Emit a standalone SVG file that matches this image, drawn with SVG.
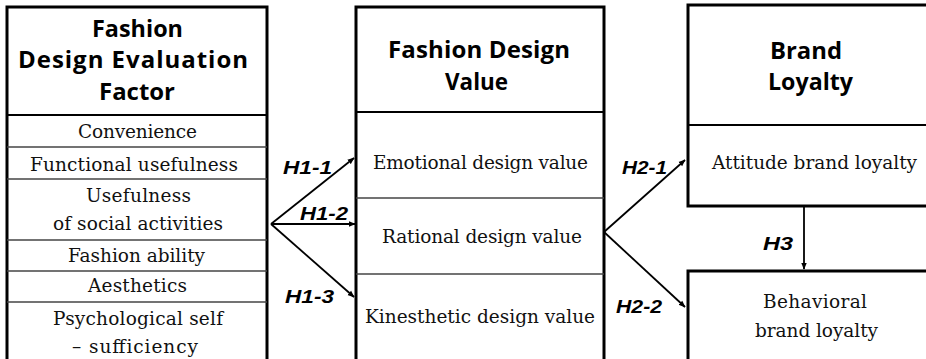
<svg xmlns="http://www.w3.org/2000/svg" width="926" height="359" viewBox="0 0 926 359">
  <defs>
    <marker id="arrow" viewBox="0 0 10 10" refX="9" refY="5" markerWidth="7" markerHeight="7" markerUnits="userSpaceOnUse" orient="auto">
      <path d="M0,1 L10,5 L0,9 Z" fill="#000"/>
    </marker>
    <style>
      .frame { fill: #fff; stroke: #000; stroke-width: 3; }
      .head-rule { stroke: #000; stroke-width: 2.2; }
      .row-rule { stroke: #444; stroke-width: 1.3; }
      .title { font-family: "Open Sans", "Noto Sans", sans-serif; font-weight: bold; font-size: 24px; fill: #000; text-anchor: middle; }
      .item { font-family: "DejaVu Serif", "Liberation Serif", serif; font-size: 18.5px; fill: #111; text-anchor: middle; }
      .hyp { font-family: "Liberation Sans", Arial, sans-serif; font-weight: bold; font-style: italic; font-size: 18px; fill: #000; }
      .link { stroke: #000; stroke-width: 1.8; fill: none; marker-end: url(#arrow); }
    </style>
  </defs>

  <rect width="926" height="359" fill="#fff"/>

  <!-- Evaluation factors -->
  <g id="evaluation-factor">
    <rect class="frame" x="7" y="7" width="260" height="370"/>
    <line class="head-rule" x1="7" y1="115" x2="267" y2="115"/>
    <line class="row-rule" x1="7" y1="147" x2="267" y2="147"/>
    <line class="row-rule" x1="7" y1="179" x2="267" y2="179"/>
    <line class="row-rule" x1="7" y1="240" x2="267" y2="240"/>
    <line class="row-rule" x1="7" y1="271" x2="267" y2="271"/>
    <line class="row-rule" x1="7" y1="302" x2="267" y2="302"/>
    <text class="title" x="137.5" y="37" textLength="91" lengthAdjust="spacingAndGlyphs">Fashion</text>
    <text class="title" x="133" y="68" textLength="230" lengthAdjust="spacing">Design Evaluation</text>
    <text class="title" x="137" y="100" textLength="76" lengthAdjust="spacingAndGlyphs">Factor</text>
    <text class="item" x="137.5" y="138" textLength="119" lengthAdjust="spacing">Convenience</text>
    <text class="item" x="134" y="171" textLength="208" lengthAdjust="spacing">Functional usefulness</text>
    <text class="item" x="138.5" y="202" textLength="105" lengthAdjust="spacing">Usefulness</text>
    <text class="item" x="138" y="230" textLength="170" lengthAdjust="spacing">of social activities</text>
    <text class="item" x="136.5" y="262" textLength="137" lengthAdjust="spacing">Fashion ability</text>
    <text class="item" x="137.5" y="292" textLength="99" lengthAdjust="spacing">Aesthetics</text>
    <text class="item" x="138" y="325" textLength="170" lengthAdjust="spacing">Psychological self</text>
    <text class="item" x="135" y="353" textLength="126" lengthAdjust="spacing">– sufficiency</text>
  </g>

  <!-- Design value -->
  <g id="design-value">
    <rect class="frame" x="356" y="7" width="248" height="370"/>
    <line class="head-rule" x1="356" y1="112" x2="604" y2="112"/>
    <line class="row-rule" x1="356" y1="198" x2="604" y2="198"/>
    <line class="row-rule" x1="356" y1="274" x2="604" y2="274"/>
    <text class="title" x="479" y="58" textLength="182" lengthAdjust="spacing">Fashion Design</text>
    <text class="title" x="476.5" y="90" textLength="63" lengthAdjust="spacingAndGlyphs">Value</text>
    <text class="item" x="480.5" y="169" textLength="215" lengthAdjust="spacing">Emotional design value</text>
    <text class="item" x="482" y="243" textLength="200" lengthAdjust="spacing">Rational design value</text>
    <text class="item" x="480" y="323" textLength="230" lengthAdjust="spacing">Kinesthetic design value</text>
  </g>

  <!-- Brand loyalty (attitude) -->
  <g id="brand-loyalty">
    <rect class="frame" x="688" y="5" width="260" height="201"/>
    <line class="head-rule" x1="688" y1="125" x2="926" y2="125"/>
    <text class="title" x="806" y="59" textLength="72" lengthAdjust="spacingAndGlyphs">Brand</text>
    <text class="title" x="810.5" y="90" textLength="85" lengthAdjust="spacingAndGlyphs">Loyalty</text>
    <text class="item" x="814.5" y="169" textLength="205" lengthAdjust="spacing">Attitude brand loyalty</text>
  </g>

  <!-- Behavioral loyalty -->
  <g id="behavioral-loyalty">
    <rect class="frame" x="688" y="271" width="260" height="110"/>
    <text class="item" x="815" y="308" textLength="104" lengthAdjust="spacing">Behavioral</text>
    <text class="item" x="816.5" y="337" textLength="123" lengthAdjust="spacing">brand loyalty</text>
  </g>

  <!-- Hypothesis paths -->
  <g id="connectors">
    <line class="link" x1="271" y1="224" x2="354" y2="158"/>
    <line class="link" x1="271" y1="224" x2="355" y2="224"/>
    <line class="link" x1="271" y1="224" x2="354" y2="297"/>
    <line class="link" x1="604" y1="232" x2="685" y2="160"/>
    <line class="link" x1="604" y1="232" x2="685" y2="307"/>
    <line class="link" x1="804" y1="207" x2="804" y2="269"/>
    <text class="hyp" x="283" y="174" textLength="49" lengthAdjust="spacingAndGlyphs">H1-1</text>
    <text class="hyp" x="300" y="220" textLength="48" lengthAdjust="spacingAndGlyphs">H1-2</text>
    <text class="hyp" x="285" y="303" textLength="49" lengthAdjust="spacingAndGlyphs">H1-3</text>
    <text class="hyp" x="622" y="174" textLength="45" lengthAdjust="spacingAndGlyphs">H2-1</text>
    <text class="hyp" x="616" y="313" textLength="46" lengthAdjust="spacingAndGlyphs">H2-2</text>
    <text class="hyp" x="763" y="250" textLength="30" lengthAdjust="spacingAndGlyphs">H3</text>
  </g>
</svg>
